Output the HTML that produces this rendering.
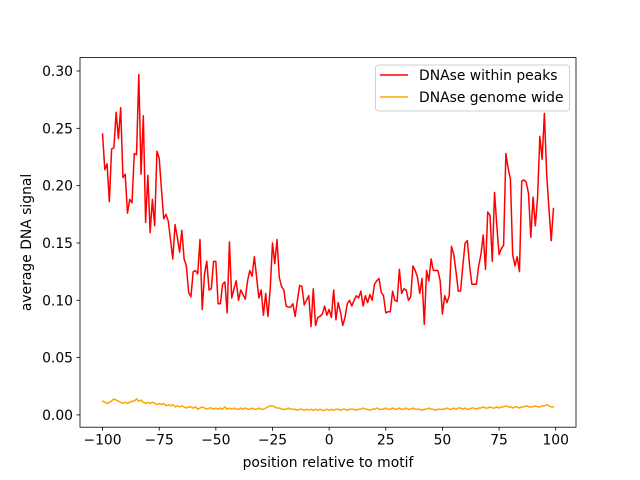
<!DOCTYPE html>
<html><head><meta charset="utf-8"><style>
body{margin:0;background:#fff;}
svg{display:block;font-family:"DejaVu Sans","Liberation Sans",sans-serif;}
</style></head><body>
<svg id="chart" width="640" height="480" viewBox="0 0 640 480">
<rect width="640" height="480" fill="#fff"/>
<g id="plot"></g>
</svg>
<script>
const positions = Array.from({length:200},(_,i)=>i-100);
const peaksSignal = [
.245,.214,.219,.186,.232,.233,.264,.241,.268,.207,
.21,.176,.188,.185,.228,.227,.297,.21,.261,.168,
.209,.159,.188,.165,.23,.224,.197,.171,.175,.169,
.153,.136,.166,.155,.142,.161,.136,.13,.107,.103,
.125,.126,.123,.153,.092,.123,.134,.109,.11,.134,
.134,.097,.097,.114,.116,.089,.151,.102,.11,.117,
.1,.109,.105,.101,.117,.126,.121,.138,.12,.102,
.109,.087,.106,.086,.11,.15,.132,.153,.12,.112,
.109,.095,.094,.094,.097,.086,.1,.113,.112,.096,
.1,.104,.077,.11,.078,.085,.086,.088,.095,.087,
.092,.085,.109,.083,.098,.09,.078,.085,.097,.1,
.095,.1,.104,.102,.108,.095,.104,.098,.105,.1,
.114,.117,.119,.107,.104,.089,.09,.09,.108,.1,
.099,.127,.106,.11,.109,.1,.103,.13,.126,.12,
.106,.119,.079,.126,.117,.136,.126,.126,.126,.117,
.088,.104,.098,.104,.147,.14,.125,.108,.108,.13,
.15,.152,.13,.114,.114,.114,.13,.14,.157,.127,
.177,.174,.134,.194,.165,.14,.145,.148,.228,.215,
.206,.14,.13,.138,.125,.204,.205,.203,.193,.155,
.19,.165,.19,.243,.223,.263,.21,.18,.152,.18];
const genomeSignal = [
.012,.011,.010,.011,.012,.014,.013,.012,.011,.010,
.011,.010,.011,.012,.012,.014,.012,.013,.011,.010,
.011,.010,.011,.010,.009,.010,.009,.010,.008,.009,
.008,.009,.007,.008,.007,.008,.007,.006,.007,.007,
.006,.007,.005,.006,.007,.006,.005,.006,.006,.005,
.006,.005,.006,.005,.007,.005,.006,.005,.006,.005,
.005,.006,.005,.006,.005,.005,.006,.005,.005,.006,
.005,.005,.006,.007,.008,.008,.007,.006,.006,.005,
.005,.005,.006,.005,.005,.005,.004,.005,.005,.004,
.005,.004,.005,.004,.005,.004,.005,.004,.004,.005,
.004,.005,.004,.005,.005,.004,.005,.005,.004,.005,
.005,.005,.004,.005,.005,.006,.005,.005,.004,.005,
.005,.006,.005,.005,.005,.006,.005,.005,.006,.005,
.005,.006,.005,.005,.006,.005,.005,.006,.005,.005,
.005,.004,.005,.005,.006,.005,.005,.004,.005,.005,
.005,.005,.006,.005,.005,.006,.005,.006,.006,.005,
.006,.005,.005,.006,.006,.005,.006,.006,.007,.006,
.006,.007,.006,.006,.007,.006,.007,.007,.008,.007,
.007,.006,.007,.007,.006,.007,.007,.008,.007,.007,
.007,.008,.007,.007,.008,.008,.009,.008,.007,.007];
const xTicks = [-100,-75,-50,-25,0,25,50,75,100];
const yTicks = [0,0.05,0.10,0.15,0.20,0.25,0.30];
const yTickLabels = ["0.00","0.05","0.10","0.15","0.20","0.25","0.30"];

const L=80,R=576,T=57.6,B=427.2;
const xMin=-109.95,xMax=108.95,yMin=-0.0107,yMax=0.3117;
const X=v=>L+(v-xMin)/(xMax-xMin)*(R-L);
const Y=v=>B-(v-yMin)/(yMax-yMin)*(B-T);
const NS="http://www.w3.org/2000/svg";
const g=document.getElementById('plot');
function mk(tag,attrs,parent){const e=document.createElementNS(NS,tag);for(const k in attrs)e.setAttribute(k,attrs[k]);(parent||g).appendChild(e);return e;}

function series(vals,color,name){
  const d=vals.map((v,i)=>(i?'L':'M')+X(positions[i]).toFixed(2)+','+Y(v).toFixed(2)).join('');
  const p=mk('path',{d:d,fill:'none',stroke:color,'stroke-width':1.5,'stroke-linejoin':'round','stroke-linecap':'square'});
  
  
}
series(peaksSignal,'#ff0000','line-dnase-within-peaks');
series(genomeSignal,'#ffa500','line-dnase-genome-wide');

const frame=mk('rect',{x:L,y:T,width:R-L,height:B-T,fill:'none',stroke:'#000','stroke-width':0.8});



xTicks.forEach(t=>{
  const x=X(t);
  const tk=mk('line',{x1:x,x2:x,y1:B,y2:B+3.5,stroke:'#000','stroke-width':0.8});
  
  
  const tx=mk('text',{x:x,y:B+17.5,'font-size':'13.9px','text-anchor':'middle',fill:'#000'});
  tx.textContent=(t<0?'\u2212'+(-t):String(t));
  
  
});
yTicks.forEach((t,i)=>{
  const y=Y(t);
  const tk=mk('line',{x1:L-3.5,x2:L,y1:y,y2:y,stroke:'#000','stroke-width':0.8});
  
  
  const tx=mk('text',{x:L-7,y:y+5,'font-size':'13.9px','text-anchor':'end',fill:'#000'});
  tx.textContent=yTickLabels[i];
  
  
});
const xl=mk('text',{x:(L+R)/2,y:467,'font-size':'13.9px','text-anchor':'middle',fill:'#000'});
xl.textContent='position relative to motif';


const yl=mk('text',{x:0,y:0,'font-size':'13.9px','text-anchor':'middle',fill:'#000',transform:'translate(31,'+((T+B)/2)+') rotate(-90)'});
yl.textContent='average DNA signal';



const lg=mk('g',{});


mk('rect',{x:375.5,y:65,width:194,height:46,rx:3,fill:'#fff','fill-opacity':0.8,stroke:'#d0d0d0','stroke-width':1},lg);
const entries=[['DNAse within peaks','#ff0000',75],['DNAse genome wide','#ffa500',97]];
entries.forEach(e=>{
  const eg=mk('g',{},lg);
  
  
  mk('line',{x1:380,x2:408,y1:e[2],y2:e[2],stroke:e[1],'stroke-width':1.5},eg);
  const t=mk('text',{x:419,y:e[2]+5,'font-size':'13.9px',fill:'#000'},eg);
  t.textContent=e[0];
});
</script>
</body></html>
